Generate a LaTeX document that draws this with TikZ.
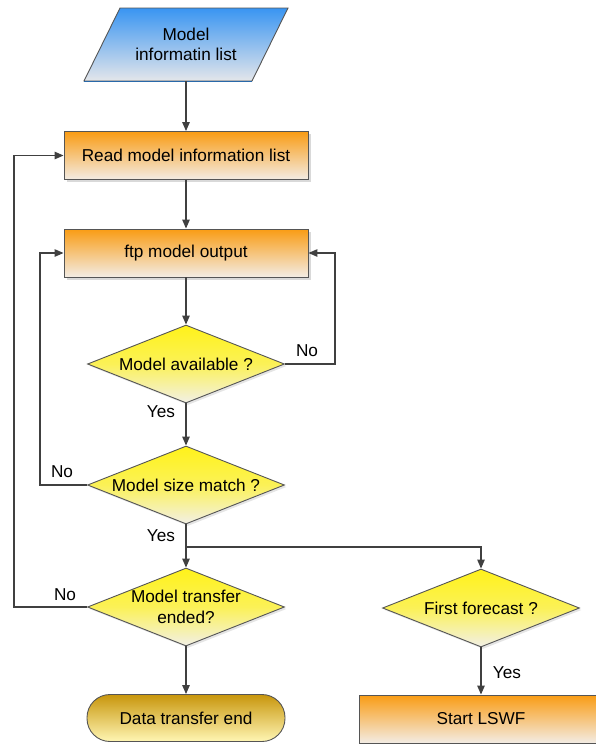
\documentclass[tikz,border=0pt]{standalone}
\usepackage{fontspec}
\setmainfont{Liberation Sans}
\usetikzlibrary{shapes.geometric,arrows.meta,shadows}
\definecolor{lineC}{HTML}{404040}
\definecolor{edgeC}{HTML}{555555}
\definecolor{orangeTop}{HTML}{F99C14}
\definecolor{orangeBot}{HTML}{F3ECE4}
\definecolor{yelTop}{HTML}{FFF21A}
\definecolor{yelBot}{HTML}{F2F0E6}
\definecolor{goldTop}{HTML}{C8960C}
\definecolor{goldBot}{HTML}{FFF6B4}
\definecolor{blueTop}{HTML}{3995F2}
\definecolor{blueBot}{HTML}{E4E6EA}
\tikzset{
  txt/.style={font=\fontsize{17.2}{20.5}\selectfont, text=black, align=center},
  procbox/.style={txt, draw=edgeC, line width=0.9pt, rectangle,
    minimum width=244pt, minimum height=48pt, inner sep=0pt,
    top color=orangeTop, bottom color=orangeBot,
    drop shadow={shadow xshift=2.5pt, shadow yshift=-2.5pt, fill=black!25, opacity=0.6}},
  decide/.style={draw=edgeC, line width=0.9pt, diamond, inner sep=0pt,
    minimum width=197pt, minimum height=78pt,
    top color=yelTop, bottom color=yelBot, middle color=yelTop!70!yelBot,
    drop shadow={shadow xshift=2pt, shadow yshift=-2pt, fill=black!20, opacity=0.5}},
  endbox/.style={txt, draw=edgeC, line width=0.9pt, rectangle, rounded corners=23pt,
    minimum width=198pt, minimum height=47pt, inner sep=0pt,
    top color=goldTop, bottom color=goldBot},
  link/.style={draw=lineC, line width=1.2pt, -{Triangle[length=9pt,width=7.5pt]}},
  lbl/.style={txt}
}
\begin{document}
\begin{tikzpicture}[x=1pt,y=-1pt]
\useasboundingbox (0,0) rectangle (596,744);

% input parallelogram
\path[draw=edgeC, line width=0.9pt, top color=blueTop, bottom color=blueBot]
  (120,8) -- (288,8) -- (252,81) -- (84,81) -- cycle;
\draw[blueTop!70!black, line width=1pt] (84,81) -- (252,81);
\node[txt, minimum width=168pt, minimum height=73pt, inner sep=0pt] (inp) at (186,44.5)
  {Model\\informatin list};

% process boxes
\node[procbox] (read) at (186,155.5) {Read model information list};
\node[procbox] (ftp) at (186,253) {ftp model output};

% decisions
\node[decide, label={[txt]center:Model available ?}] (avail) at (186,364) {};
\node[decide, label={[txt]center:Model size match ?}] (size) at (186,485) {};
\node[decide, label={[txt]center:Model transfer\\ended?}] (ended) at (186,607) {};
\node[decide, label={[txt]center:First forecast ?}] (first) at (481,608) {};

% terminals
\node[endbox] (dend) at (186,718) {Data transfer end};
\node[procbox, drop shadow={fill=none, opacity=0}] (lswf) at (481,719) {Start LSWF};

% main flow
\draw[link] (inp.south) -- (read.north);
\draw[link] (read.south) -- (ftp.north);
\draw[link] (ftp.south) -- (avail.north);
\draw[link] (avail.south) -- (size.north);
\draw[link] (size.south) -- (ended.north);
\draw[link] (ended.south) -- (dend.north);
\draw[link] (first.south) -- (lswf.north);

% branch to first forecast
\coordinate (split) at (186,547);
\draw[link] (split) -| (first.north);

% loops back
\draw[link] (avail.east) -- (335,364) |- (ftp.east);
\draw[link] (size.west) -- (40,485) |- (ftp.west);
\draw[link] (ended.west) -- (14,607) |- (read.west);

% labels
\node[lbl] (l1) at (307,351) {No};
\node[lbl] (l2) at (161,412) {Yes};
\node[lbl] (l3) at (62,472) {No};
\node[lbl] (l4) at (161,536) {Yes};
\node[lbl] (l5) at (65,595) {No};
\node[lbl] (l6) at (507,673) {Yes};
\end{tikzpicture}
\end{document}
